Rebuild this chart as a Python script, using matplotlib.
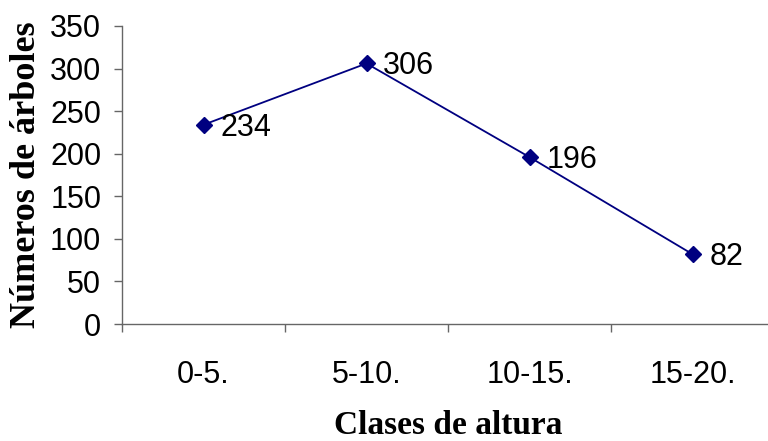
import matplotlib
matplotlib.use("Agg")
import matplotlib.pyplot as plt
import numpy as np

clases = ["0-5.", "5-10.", "10-15.", "15-20."]
arboles = [234, 306, 196, 82]
y_ticks = [0, 50, 100, 150, 200, 250, 300, 350]

fig = plt.figure(figsize=(7.68, 4.41), dpi=100)
ax = fig.add_axes([122 / 768, 117 / 441, 652 / 768, 298 / 441])

x = np.arange(len(clases))
ax.plot(x, arboles, color="#000080", linewidth=1.3, marker="D",
        markersize=8.5, markerfacecolor="#000080", markeredgecolor="#000080")

for xi, v in zip(x, arboles):
    ax.annotate(str(v), (xi, v), xytext=(12, -2), textcoords="offset points",
                ha="left", va="center", fontsize=22, family="Liberation Sans")

ax.set_xlim(-0.5, len(clases) - 0.5)
ax.set_ylim(0, 350)
ax.set_yticks(y_ticks)
ax.set_xticks(x)
ax.set_xticklabels(clases)
ax.set_xticks(np.arange(len(clases)) - 0.5, minor=True)

for lab in ax.get_xticklabels() + ax.get_yticklabels():
    lab.set_family("Liberation Sans")
    lab.set_fontsize(22)

ax.tick_params(axis="x", which="major", length=0, pad=26)
ax.tick_params(axis="x", which="minor", length=6, width=1, color="#666666")
ax.tick_params(axis="y", length=6, width=1, color="#666666", pad=9)

for s in ["top", "right"]:
    ax.spines[s].set_visible(False)
for s in ["left", "bottom"]:
    ax.spines[s].set_color("#666666")
    ax.spines[s].set_linewidth(1)

ax.set_xlabel("Clases de altura", family="Liberation Serif", fontweight="bold",
              fontsize=24, labelpad=14)
ax.set_ylabel("Números de árboles", family="Liberation Serif", fontweight="bold",
              fontsize=26, labelpad=5)

fig.savefig("out.png", dpi=100)
